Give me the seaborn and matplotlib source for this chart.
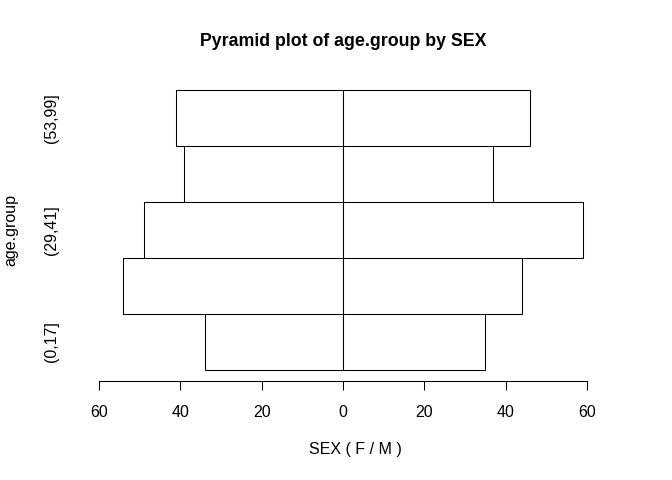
import matplotlib
matplotlib.use("Agg")
import matplotlib.pyplot as plt
import seaborn as sns
import pandas as pd

# age groups listed top to bottom as drawn
age_groups = ["(53,99]", "(41,53]", "(29,41]", "(17,29]", "(0,17]"]
female = [41, 39, 49, 54, 34]
male = [46, 37, 59, 44, 35]
shown_labels = ["(53,99]", "(29,41]", "(0,17]"]
x_ticks = [-60, -40, -20, 0, 20, 40, 60]

df = pd.DataFrame({
    "age.group": age_groups * 2,
    "SEX": ["F"] * len(age_groups) + ["M"] * len(age_groups),
    "count": [-v for v in female] + male,
})

sns.set_style("white")
plt.rcParams["font.family"] = ["Liberation Sans", "DejaVu Sans"]
plt.rcParams["text.color"] = "black"
plt.rcParams["axes.labelcolor"] = "black"
plt.rcParams["xtick.color"] = "black"
plt.rcParams["ytick.color"] = "black"

fig = plt.figure(figsize=(6.72, 4.8), dpi=100)
ax = fig.add_axes([0.1183, 0.206, 0.7842, 0.6294])

sns.barplot(data=df, x="count", y="age.group", hue="SEX", order=age_groups,
            palette={"F": "white", "M": "white"}, dodge=False, width=1,
            edgecolor="black", linewidth=0.75, legend=False, ax=ax)

n = len(age_groups)
ax.vlines(0, -0.5, n - 0.5, color="black", linewidth=0.75)
ax.set_xlim(-64.8, 64.8)
ax.set_ylim(n - 0.5 + 0.2, -0.5 - 0.2)

ax.set_xticks(x_ticks)
ax.set_xticklabels([str(abs(t)) for t in x_ticks])
ax.set_yticks([age_groups.index(g) for g in shown_labels])
ax.set_yticklabels(shown_labels, rotation=90, va="center")

for s in ["top", "right", "left"]:
    ax.spines[s].set_visible(False)
ax.spines["bottom"].set_bounds(-60, 60)
ax.spines["bottom"].set_linewidth(0.75)
ax.spines["bottom"].set_color("black")

fs = 11.5
ax.tick_params(axis="x", length=6.5, width=0.75, pad=10.5, labelsize=fs,
               bottom=True)
ax.tick_params(axis="y", length=0, pad=15, labelsize=fs)

ax.set_xlabel("SEX ( F / M )", fontsize=fs, labelpad=19)
ax.xaxis.set_label_coords(0.523, -0.2)
ax.set_ylabel("age.group", fontsize=fs, labelpad=18)
ax.set_title("Pyramid plot of age.group by SEX", fontsize=12.8,
             fontweight="bold", pad=24)

fig.savefig("out.png", dpi=100)
